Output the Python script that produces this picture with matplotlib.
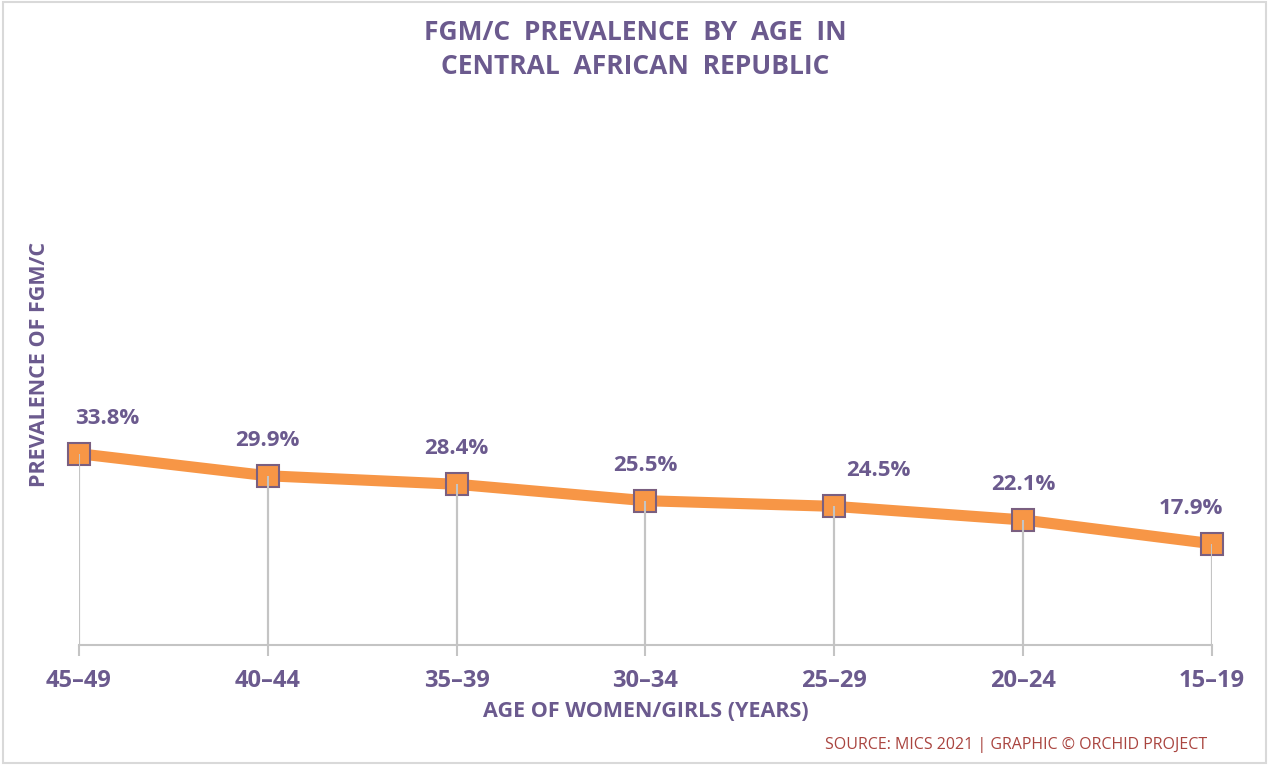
import matplotlib
matplotlib.use("Agg")
import matplotlib.pyplot as plt
from matplotlib.patches import Rectangle

ages = ["45\u201349", "40\u201344", "35\u201339", "30\u201334", "25\u201329", "20\u201324", "15\u201319"]
prevalence = [33.8, 29.9, 28.4, 25.5, 24.5, 22.1, 17.9]

purple = "#6b5a8e"
orange = "#f79646"
grey = "#c4c4c4"

plt.rcParams['font.family'] = ['Open Sans', 'DejaVu Sans']

fig = plt.figure(figsize=(12.7, 7.71), dpi=100)
ax = fig.add_axes([0.0622, 0.1634, 0.8921, 0.7341])

x = list(range(len(ages)))

# drop lines from each point to the baseline
ax.vlines(x, 0, prevalence, color=grey, lw=1.5, zorder=1)
ax.plot(x, prevalence, color=orange, lw=8, solid_capstyle='butt', zorder=2,
        clip_on=False)
ax.plot(x, prevalence, ls='none', marker='s', ms=16, mfc=orange,
        mec="#7a5f80", mew=1.5, zorder=3, clip_on=False)
# grey line shows through the marker in the original
ax.vlines(x, 0, prevalence, color=grey, lw=1.5, zorder=4)

label_dx = [20, 0, 0, 0, 32, 0, -15]
for xi, p, dx in zip(x, prevalence, label_dx):
    ax.annotate(f"{p}%", (xi, p), xytext=(dx, 18), textcoords='offset points',
                ha='center', va='bottom', fontsize=16, fontweight='bold', color=purple)

ax.set_xlim(0, len(ages) - 1)
ax.set_ylim(0, 100)
ax.set_xticks(x)
ax.set_xticklabels(ages, fontsize=17, fontweight='bold', color=purple)
ax.tick_params(axis='x', length=8, width=1.5, color=grey, pad=9)
ax.set_yticks([])
for s in ['top', 'right', 'left']:
    ax.spines[s].set_visible(False)
ax.spines['bottom'].set_color(grey)
ax.spines['bottom'].set_linewidth(1.5)

ax.set_xlabel("AGE OF WOMEN/GIRLS (YEARS)", fontsize=15.5, fontweight='bold',
              color=purple, labelpad=6)
ax.set_ylabel("PREVALENCE OF FGM/C", fontsize=15.5, fontweight='bold',
              color=purple)
ax.yaxis.set_label_coords(-0.026, 0.495)

fig.text(0.5, 0.936, "FGM/C  PREVALENCE  BY  AGE  IN\nCENTRAL  AFRICAN  REPUBLIC",
         ha='center', va='center', fontsize=19, fontweight='bold', color=purple,
         linespacing=1.35)
fig.text(0.8, 0.034, "SOURCE: MICS 2021 | GRAPHIC \u00a9 ORCHID PROJECT",
         ha='center', va='center', fontsize=11.5, color="#a9443f")

fig.patches.append(Rectangle((0.002, 0.01), 0.995, 0.987, transform=fig.transFigure,
                             fill=False, ec="#d9d9d9", lw=1.5))

fig.savefig("out.png", dpi=100)
